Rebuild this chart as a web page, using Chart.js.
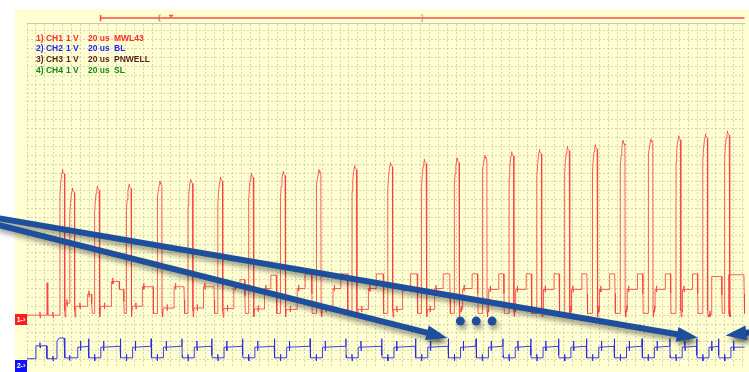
<!DOCTYPE html>
<html><head><meta charset="utf-8">
<script src="https://cdn.jsdelivr.net/npm/chart.js@4.4.1/dist/chart.umd.min.js"></script>
<style>
html,body{margin:0;padding:0;background:#fff;width:749px;height:372px;overflow:hidden;position:relative;font-family:"Liberation Sans",Arial,sans-serif}
#panel{position:absolute;left:15px;top:9px;width:734px;height:363px;background:#ffffd2;overflow:hidden}
#c{position:absolute;left:0;top:0}
#legend{position:absolute;left:15px;top:9px}
.row{position:absolute;left:0;height:10px;line-height:10px;font-size:8.5px;font-weight:bold;white-space:nowrap}
.row span{position:absolute;top:0}
.tag{position:absolute;left:15px;width:12px;height:11px;line-height:11px;color:#fff;font-size:7px;font-weight:bold;text-align:center}
</style></head>
<body>
<div id="panel"></div>
<canvas id="c" width="749" height="372"></canvas>
<div id="legend"></div>
<div class="tag" style="top:314px;background:#ff1c1c">1-›</div>
<div class="tag" style="top:360px;height:12px;background:#1010ff">2-›</div>
<script>
// ---------- DATA (time in us, level in V) ----------
const legendRows = [
  ["1) CH1", "1 V", "20 us", "MWL43", "#ff2a2a"],
  ["2) CH2", "1 V", "20 us", "BL", "#2323ff"],
  ["3) CH3", "1 V", "20 us", "PNWELL", "#5a1f1a"],
  ["4) CH4", "1 V", "20 us", "SL", "#148a14"]
];
const ch1Rise = [14.67,19.11,30.22,44.44,58.22,72.0,85.33,99.11,113.33,129.33,145.33,161.33,176.44,191.11,203.56,215.56,228.0,240.44,252.89,265.33,277.78,290.22,302.22,312.0];
const ch1Peak = [3.24,2.82,2.87,2.91,2.98,3.02,3.07,3.16,3.20,3.24,3.33,3.40,3.47,3.49,3.56,3.64,3.69,3.76,3.80,3.89,3.93,4.00,4.04,4.11];
// per gap after each pulse: [low level, low end (fraction of gap), level A, B start, level B, drop]
const ch1Steps = [
  [0.27,1.00,0.27,1.00,0.27,1.00],
  [0.20,0.72,0.47,0.88,0.47,0.88],
  [0.20,0.53,0.76,0.78,0.58,0.91],
  [0.20,0.52,0.64,0.87,0.64,0.87],
  [0.16,0.55,0.64,0.87,0.64,0.87],
  [0.16,0.52,0.64,0.87,0.64,0.87],
  [0.15,0.52,0.62,0.72,0.80,0.87],
  [0.14,0.50,0.60,0.70,0.90,0.87],
  [0.13,0.47,0.60,0.69,0.93,0.87],
  [0.13,0.47,0.60,0.69,0.93,0.87],
  [0.13,0.46,0.60,0.68,0.93,0.87],
  [0.13,0.44,0.60,0.67,0.93,0.87],
  [0.13,0.40,0.60,0.66,0.93,0.86],
  [0.13,0.30,0.60,0.64,0.93,0.83],
  [0.13,0.25,0.58,0.62,0.93,0.80],
  [0.13,0.25,0.58,0.62,0.93,0.80],
  [0.13,0.25,0.58,0.62,0.93,0.80],
  [0.13,0.25,0.58,0.62,0.93,0.80],
  [0.13,0.25,0.58,0.62,0.93,0.80],
  [0.13,0.25,0.58,0.62,0.93,0.80],
  [0.13,0.25,0.58,0.62,0.93,0.80],
  [0.13,0.25,0.58,0.62,0.93,0.80],
  [0.02,0.41,0.87,0.41,0.87,0.86],
  [0.02,0.20,0.91,0.20,0.91,0.97]
];
const ch1Lead = [[0,0],[5.78,0],[5.78,0.07],[5.9,-0.06],[6.0,0],[8.89,0],[9.0,0.73],[9.3,0],[11.56,0],[11.56,0.07],[11.7,-0.06],[11.8,0]];
const ch2Lead = [[0,0.02],[4.0,0.02],[4.0,0.31],[5.8,0.31],[5.8,0.38],[5.9,0.26],[6.0,0.31],[8.9,0.31],[8.9,0.02],[11.6,0.02],[11.6,0.08],[11.7,-0.03],[11.8,0.02],[13.3,0.02],[13.4,0.40],[14.0,0.47],[14.8,0.49],[16.6,0.48],[16.9,0.04],[19.0,0.04],[19.0,0.1],[19.1,-0.02],[19.2,0.04],[22.7,0.04]];
const ch2High = 0.28, ch2Low = 0.04;
const ch2LowWindow = [-2.6, 2.8];   // CH2 low phase around each CH1 pulse (us)
const ch1End = 320.89;
const arrowLines = [
  [[-13.78,2.044],[184.5,-0.467]],
  [[-13.78,2.193],[296.5,-0.48]],
  [[339.1,-0.289],[315.96,-0.433]]
];
const dotsT = [193.8,200.9,208.0], dotsV = -0.133;
const trigLevel = 6.689, trigStart = 32.89, trigMark = 64.44, winL = 59.1, winR = 176.9;

// ---------- display settings ----------
const ch2Offset = -1.0;
const xMin = 0, xMax = 320.89, yMin = -1.1778, yMax = 6.5778;

function mark(pts,t,l){pts.push({x:t,y:l},{x:t,y:l+0.08},{x:t+0.08,y:l-0.06},{x:t+0.16,y:l});}
const pulseShape = [[0.05,-0.55],[0.35,-0.3],[0.7,-0.12],[1.05,-0.02],[1.2,0],[1.25,0.04],[1.3,0],[1.7,-0.03],[2.1,-0.06]];
function buildCh1(){
  const pts = ch1Lead.map(([x,y])=>({x,y}));
  for(let i=0;i<ch1Rise.length;i++){
    const tr=ch1Rise[i], vp=ch1Peak[i];
    const next = i+1<ch1Rise.length ? ch1Rise[i+1] : ch1End;
    const P = next-tr;
    const [lo,fLo,a,fB,b,fD] = ch1Steps[i];
    pts.push({x:tr,y:pts[pts.length-1].y});
    for(const [dx,dy] of pulseShape) pts.push({x:tr+dx,y:vp+dy});
    pts.push({x:tr+2.2,y:0.1},{x:tr+2.4,y:-0.04},{x:tr+2.7,y:lo});
    if(fLo<1){
      const tLo=tr+fLo*P;
      mark(pts, tr+2.7+(tLo-tr-2.7)*0.35, lo);
      pts.push({x:tLo,y:lo},{x:tLo,y:a});
      const tB=tr+fB*P;
      if(tB-tLo>1.2) mark(pts, tLo+0.6, a);
      pts.push({x:tB,y:a},{x:tB,y:b});
      const tD=tr+fD*P;
      pts.push({x:tD,y:b},{x:tD+0.15,y:(b+0.04)/2},{x:tD+0.3,y:0.04},{x:Math.min(next,ch1End),y:0.04});
    } else {
      mark(pts, tr+3.2, lo);
      pts.push({x:next,y:lo});
    }
  }
  return pts;
}
function buildCh2(){
  const pts = ch2Lead.map(([x,y])=>({x,y:y+ch2Offset}));
  const add=(x,y)=>pts.push({x,y:y+ch2Offset});
  let hs = 22.7;
  for(let i=2;i<=ch1Rise.length;i++){
    const tr = i<ch1Rise.length ? ch1Rise[i] : null;
    const he = tr!==null ? tr+ch2LowWindow[0] : ch1End;
    add(hs,ch2High); add(hs+1.2,ch2High); add(hs+1.2,0.42); add(hs+1.3,0.2); add(hs+1.4,ch2High);
    if(tr===null){ add(he,ch2High); break; }
    add(he-0.2,ch2High+0.02); add(he-0.1,0.47); add(he,0.1); add(he+0.1,ch2Low);
    add(tr,ch2Low); add(tr,0.12); add(tr+0.1,-0.03); add(tr+0.2,ch2Low);
    hs = tr+ch2LowWindow[1];
    add(hs,ch2Low);
  }
  return pts;
}
function buildTrig(){
  return [
    {x:trigStart,y:trigLevel},{x:xMax,y:trigLevel},{x:null,y:null},
    {x:trigStart,y:trigLevel+0.07},{x:trigStart,y:trigLevel-0.07},{x:null,y:null},
    {x:trigMark,y:trigLevel},{x:trigMark,y:trigLevel+0.06},{x:null,y:null},
    {x:trigMark-0.9,y:trigLevel+0.06},{x:trigMark+0.9,y:trigLevel+0.06}
  ];
}
function buildWin(){
  return [
    {x:winL+0.9,y:trigLevel+0.07},{x:winL,y:trigLevel+0.07},{x:winL,y:trigLevel-0.07},{x:winL+0.9,y:trigLevel-0.07},{x:null,y:null},
    {x:winR-0.9,y:trigLevel+0.07},{x:winR,y:trigLevel+0.07},{x:winR,y:trigLevel-0.07},{x:winR-0.9,y:trigLevel-0.07}
  ];
}

// legend text
const leg=document.getElementById('legend');
const colX=[21,51,73,99];
legendRows.forEach((r,i)=>{
  const d=document.createElement('div'); d.className='row';
  d.style.top=(23.7+i*10.7)+'px'; d.style.color=r[4];
  for(let k=0;k<4;k++){const s=document.createElement('span');s.textContent=r[k];s.style.left=colX[k]+'px';d.appendChild(s);}
  leg.appendChild(d);
});

const arrowColor='#1d4f9c';
const arrowPlugin={
  id:'arrowdeco',
  beforeDatasetDraw(chart,args){
    const ds=chart.data.datasets[args.index];
    if(ds.shadow){const c=chart.ctx;c.save();c.shadowColor='rgba(0,0,0,0.38)';c.shadowBlur=5;c.shadowOffsetX=2;c.shadowOffsetY=4;}
  },
  afterDatasetDraw(chart,args){
    const ds=chart.data.datasets[args.index]; const c=chart.ctx;
    if(ds.head){
      const el=args.meta.data; const a=el[el.length-2], b=el[el.length-1];
      const dx=b.x-a.x, dy=b.y-a.y, L=Math.hypot(dx,dy), ux=dx/L, uy=dy/L;
      const tx=b.x+ux*8, ty=b.y+uy*8, bx=tx-ux*21, by=ty-uy*21, hw=7.5;
      c.beginPath(); c.moveTo(tx,ty); c.lineTo(bx-uy*hw,by+ux*hw); c.lineTo(bx+uy*hw,by-ux*hw); c.closePath();
      c.fillStyle=ds.borderColor; c.fill();
    }
    if(ds.shadow) c.restore();
  }
};

const datasets=[];
arrowLines.forEach(l=>datasets.push({data:l.map(([x,y])=>({x,y})),borderColor:arrowColor,borderWidth:6,pointRadius:0,clip:false,order:0,shadow:true,head:true,borderCapStyle:'butt'}));
datasets.push({data:dotsT.map(t=>({x:t,y:dotsV})),showLine:false,pointRadius:4.5,pointBackgroundColor:arrowColor,pointBorderWidth:0,clip:false,order:0,shadow:true});
datasets.push({data:buildCh1(),borderColor:'rgba(255,60,60,0.82)',borderWidth:1,pointRadius:0,order:5,borderJoinStyle:'round',clip:false});
datasets.push({data:buildCh2(),borderColor:'rgba(40,40,230,0.9)',borderWidth:1,pointRadius:0,order:5,borderJoinStyle:'round',clip:false});
datasets.push({data:buildTrig(),borderColor:'#ff4a4a',borderWidth:1.5,pointRadius:0,order:6,clip:false,spanGaps:false});
datasets.push({data:buildWin(),borderColor:'#b4b4a8',borderWidth:1,pointRadius:0,order:6,clip:false,spanGaps:false});

new Chart(document.getElementById('c'),{
  type:'line',
  data:{datasets},
  options:{
    responsive:false,animation:false,devicePixelRatio:1,events:[],
    layout:{padding:{left:27,top:23,right:0,bottom:0}},
    plugins:{legend:{display:false},tooltip:{enabled:false}},
    elements:{line:{tension:0}},
    scales:{
      x:{type:'linear',position:'top',min:xMin,max:xMax,
        ticks:{display:false,stepSize:4,includeBounds:false},
        grid:{color:'rgba(175,175,150,0.5)',lineWidth:1,drawTicks:false},
        border:{display:true,color:'#c8c8b8',width:1,dash:[2,2]},
        afterFit(s){s.height=0;}},
      y:{type:'linear',min:yMin,max:yMax,
        ticks:{display:false,stepSize:0.2,includeBounds:false},
        grid:{color:'rgba(175,175,150,0.5)',lineWidth:1,drawTicks:false},
        border:{display:false,dash:[2,2]},
        afterFit(s){s.width=0;}}
    }
  },
  plugins:[arrowPlugin]
});
</script>
</body></html>
